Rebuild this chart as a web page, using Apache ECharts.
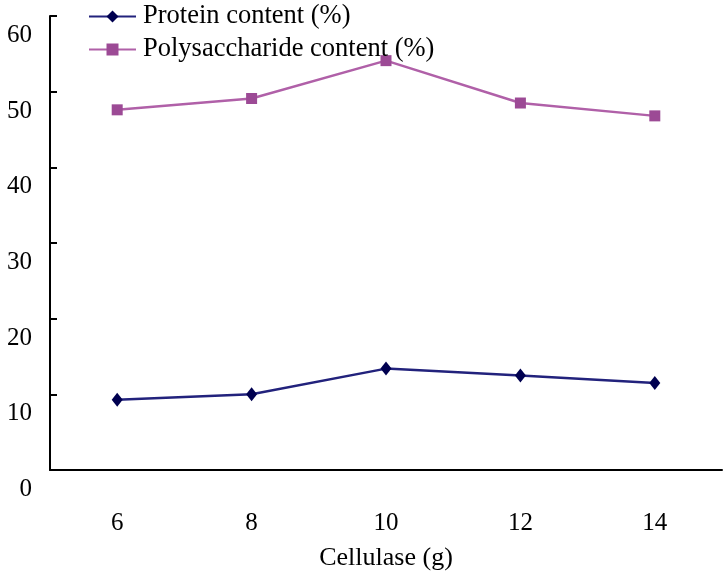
<!DOCTYPE html>
<html>
<head>
<meta charset="utf-8">
<script src="https://cdn.jsdelivr.net/npm/echarts@6/dist/echarts.min.js"></script>
<style>html,body{margin:0;padding:0;background:#fff;}#c{width:726px;height:579px;}</style>
</head>
<body>
<div id="c"></div>
<script>
const categories = ['6', '8', '10', '12', '14'];
const proteinContent = [9.3, 10.0, 13.4, 12.5, 11.5];
const polysaccharideContent = [47.6, 49.1, 54.1, 48.5, 46.8];
const yTicks = { min: 0, max: 60, interval: 10 };

const FONT = '"Liberation Serif", "Times New Roman", serif';
const chart = echarts.init(document.getElementById('c'), null, { renderer: 'canvas' });
chart.setOption({
  animation: false,
  backgroundColor: '#ffffff',
  grid: { left: 50, right: 4, top: 16, bottom: 109, containLabel: false },
  legend: {
    orient: 'vertical',
    left: 88,
    top: 3,
    padding: 0,
    itemWidth: 47,
    itemHeight: 15,
    itemGap: 6,
    textStyle: { fontFamily: FONT, fontSize: 26.5, color: '#000', padding: [0, 0, 0, 2] },
    data: ['Protein content (%)', 'Polysaccharide content (%)']
  },
  xAxis: {
    type: 'category',
    data: categories,
    boundaryGap: true,
    name: 'Cellulase (g)',
    nameLocation: 'middle',
    nameGap: 88,
    nameTextStyle: { fontFamily: FONT, fontSize: 26, color: '#000', verticalAlign: 'middle' },
    axisLine: { lineStyle: { color: '#000', width: 2 } },
    axisTick: { inside: true, length: 7, lineStyle: { color: '#000', width: 2 } },
    axisLabel: { fontFamily: FONT, fontSize: 25, color: '#000', margin: 41 },
    splitLine: { show: false }
  },
  yAxis: {
    type: 'value',
    min: yTicks.min,
    max: yTicks.max,
    interval: yTicks.interval,
    axisLine: { show: true, lineStyle: { color: '#000', width: 2 } },
    axisTick: { show: true, inside: true, length: 7, lineStyle: { color: '#000', width: 2 } },
    axisLabel: { fontFamily: FONT, fontSize: 25, color: '#000', margin: 18, verticalAlign: 'top', lineHeight: 25, padding: [7, 0, 0, 0] },
    splitLine: { show: false }
  },
  series: [
    {
      name: 'Protein content (%)',
      type: 'line',
      data: proteinContent,
      symbol: 'diamond',
      symbolSize: [11, 14],
      lineStyle: { color: '#22227c', width: 2.5 },
      itemStyle: { color: '#000050' }
    },
    {
      name: 'Polysaccharide content (%)',
      type: 'line',
      data: polysaccharideContent,
      symbol: 'rect',
      symbolSize: 11,
      lineStyle: { color: '#b060a8', width: 2.5 },
      itemStyle: { color: '#9c4a95' }
    }
  ]
});
</script>
</body>
</html>
